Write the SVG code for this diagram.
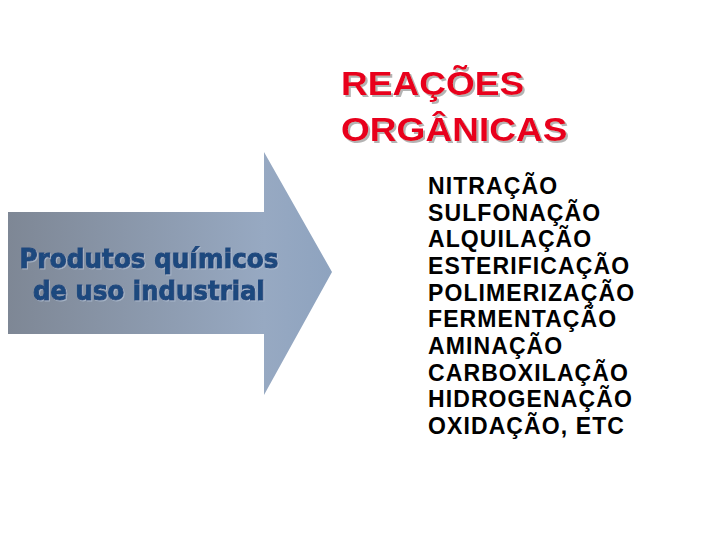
<svg xmlns="http://www.w3.org/2000/svg" width="720" height="540" viewBox="0 0 720 540">
  <defs>
    <linearGradient id="arrowGrad" gradientUnits="userSpaceOnUse" x1="8" y1="0" x2="332" y2="0">
      <stop offset="0" stop-color="#7e8795"/>
      <stop offset="0.79" stop-color="#97a9c2"/>
      <stop offset="1" stop-color="#8ea3bf"/>
    </linearGradient>
    <filter id="titleShadow" x="-10%" y="-20%" width="120%" height="150%">
      <feDropShadow dx="2" dy="2" stdDeviation="0.6" flood-color="#a0a0a0" flood-opacity="0.8"/>
    </filter>
    <filter id="labelShadow" x="-10%" y="-20%" width="120%" height="150%">
      <feDropShadow dx="1" dy="1" stdDeviation="0.5" flood-color="#b4c2d6" flood-opacity="0.7"/>
    </filter>
  </defs>
  <style>
    .title { font-family: "Liberation Sans", Arial, sans-serif; font-weight: bold; font-size: 34px; fill: #e8001c; }
    .item { font-family: "Liberation Sans", Arial, sans-serif; font-weight: bold; font-size: 23px; letter-spacing: 1.1px; fill: #000000; }
    .label { font-family: "DejaVu Sans", Verdana, sans-serif; font-weight: bold; font-size: 26px; fill: #1f487e; stroke: #1f487e; stroke-width: 1; text-anchor: middle; }
  </style>
  <rect x="0" y="0" width="720" height="540" fill="#ffffff"/>

  <g id="arrow">
    <path d="M8,212 L264,212 L264,152 L332,272 L264,395 L264,334 L8,334 Z" fill="url(#arrowGrad)"/>
    <g filter="url(#labelShadow)">
      <text class="label" x="149" y="268" textLength="259" lengthAdjust="spacingAndGlyphs">Produtos químicos</text>
      <text class="label" x="149" y="300" textLength="232" lengthAdjust="spacingAndGlyphs">de uso industrial</text>
    </g>
  </g>

  <g id="title" filter="url(#titleShadow)">
    <text class="title" transform="translate(341,0) scale(1.09,1)" x="0" y="95">REAÇÕES</text>
    <text class="title" transform="translate(341,0) scale(1.09,1)" x="0" y="141">ORGÂNICAS</text>
  </g>

  <g id="reactions">
    <text class="item" x="428" y="194">NITRAÇÃO</text>
    <text class="item" x="428" y="220.7">SULFONAÇÃO</text>
    <text class="item" x="428" y="247.3">ALQUILAÇÃO</text>
    <text class="item" x="428" y="274">ESTERIFICAÇÃO</text>
    <text class="item" x="428" y="300.7">POLIMERIZAÇÃO</text>
    <text class="item" x="428" y="327.3">FERMENTAÇÃO</text>
    <text class="item" x="428" y="354">AMINAÇÃO</text>
    <text class="item" x="428" y="380.7">CARBOXILAÇÃO</text>
    <text class="item" x="428" y="407.3">HIDROGENAÇÃO</text>
    <text class="item" x="428" y="434">OXIDAÇÃO, ETC</text>
  </g>
</svg>
